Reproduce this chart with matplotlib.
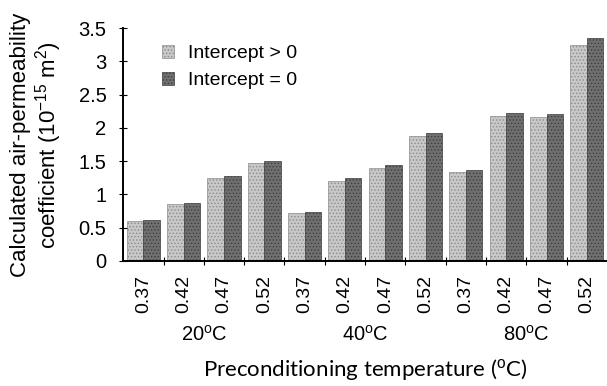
import numpy as np
import matplotlib.pyplot as plt

plt.rcParams['font.family'] = ['Liberation Sans', 'DejaVu Sans']
plt.rcParams['mathtext.fontset'] = 'custom'
plt.rcParams['mathtext.rm'] = 'Liberation Sans'
plt.rcParams['mathtext.it'] = 'Liberation Sans:italic'
plt.rcParams['hatch.linewidth'] = 0.6

ratios = ['0.37', '0.42', '0.47', '0.52'] * 3
groups = ['20$^{\\rm o}$C', '40$^{\\rm o}$C', '80$^{\\rm o}$C']
intercept_pos = [0.60, 0.85, 1.25, 1.47, 0.72, 1.20, 1.40, 1.88, 1.33, 2.18, 2.16, 3.25]
intercept_zero = [0.62, 0.87, 1.27, 1.50, 0.73, 1.25, 1.45, 1.93, 1.36, 2.23, 2.21, 3.35]

fig = plt.figure(figsize=(6.07, 3.86), dpi=100)
ax = fig.add_axes([0.203, 0.324, 0.797, 0.603])

x = np.arange(len(ratios))
w = 0.41
ax.bar(x - w/2, intercept_pos, w, color='#c8c8c8', edgecolor='#8c8c8c',
       hatch='.....', linewidth=0.5, label='Intercept > 0')
ax.bar(x + w/2, intercept_zero, w, color='#707070', edgecolor='#3c3c3c',
       hatch='.....', linewidth=0.5, label='Intercept = 0')

ax.set_xlim(-0.5, len(ratios) - 0.5)
ax.set_ylim(0, 3.5)
ax.set_yticks(np.arange(0, 3.51, 0.5))
ax.set_yticklabels(['0', '0.5', '1', '1.5', '2', '2.5', '3', '3.5'], fontsize=14.5)
ax.set_xticks(x)
ax.set_xticklabels(ratios, rotation=90, fontsize=14)
ax.tick_params(axis='x', length=0, pad=10)
ax.set_xticks(x[:-1] + 0.5, minor=True)
ax.tick_params(axis='x', which='minor', length=6, direction='inout', width=0.8)
ax.tick_params(axis='y', length=6, direction='inout', width=0.8, pad=9)
for s in ['top', 'right']:
    ax.spines[s].set_visible(False)
for s in ['left', 'bottom']:
    ax.spines[s].set_linewidth(1.4)

for i, g in enumerate(groups):
    ax.text(4*i + 1.5, -0.318, g, transform=ax.get_xaxis_transform(),
            ha='center', va='center', fontsize=14.5)
ax.text(0.5, -0.468, 'Preconditioning temperature ($^{\\rm o}$C)',
        transform=ax.transAxes, ha='center', va='center', fontsize=16,
        family=['Lato', 'DejaVu Sans'])
ax.set_ylabel('Calculated air-permeability\ncoefficient (10$^{-15}$ m$^{2}$)',
              fontsize=16, linespacing=1.1)
ax.yaxis.set_label_coords(-0.122, 0.5)

ax.legend(loc='upper left', bbox_to_anchor=(0.08, 0.927), frameon=False,
          borderpad=0, borderaxespad=0, fontsize=14, handlelength=0.62,
          handleheight=0.62, handletextpad=0.72, labelspacing=0.5)

fig.savefig('out.png', dpi=100)
